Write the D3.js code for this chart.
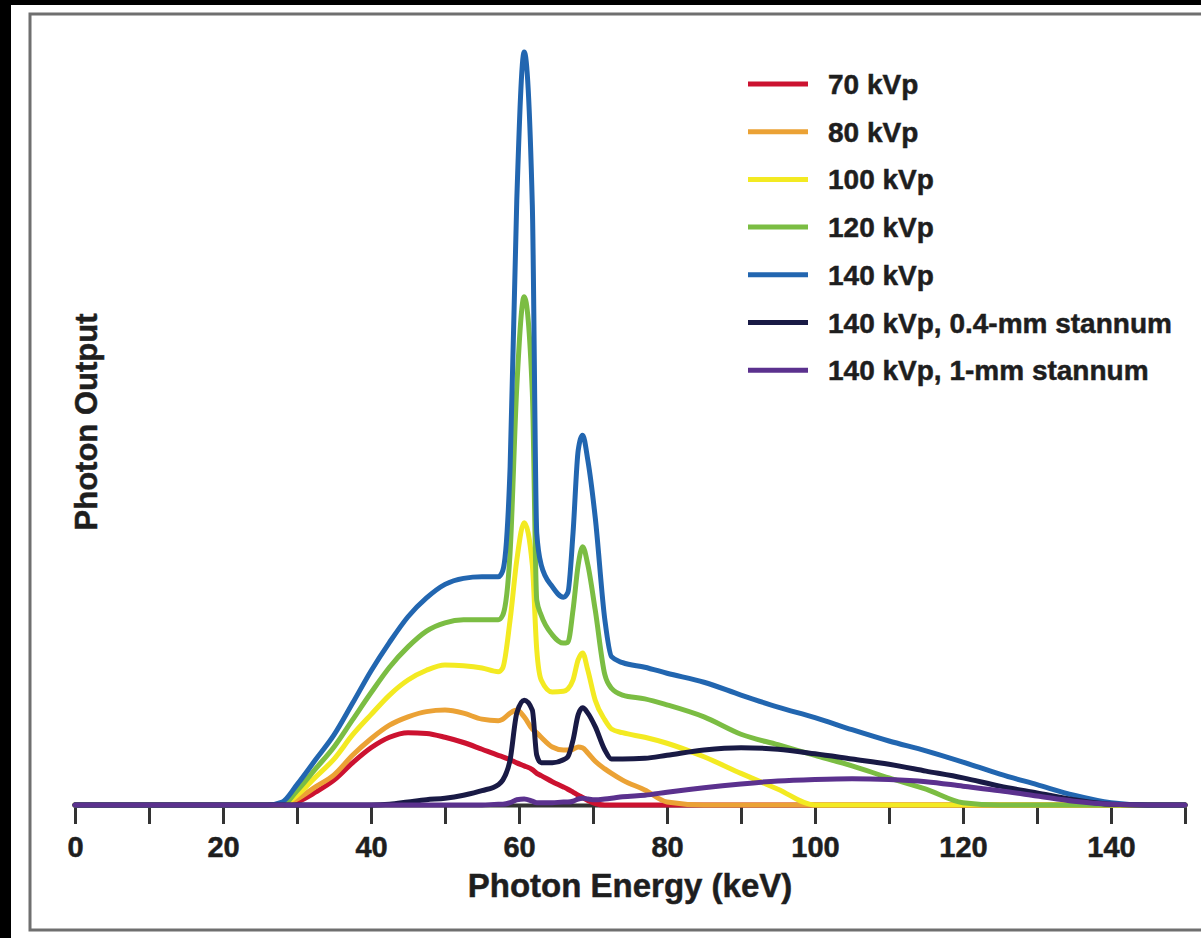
<!DOCTYPE html>
<html>
<head>
<meta charset="utf-8">
<script src="https://cdn.jsdelivr.net/npm/d3@7"></script>
<style>
  html, body { margin: 0; padding: 0; background: #000; }
  svg { display: block; }
  text { font-family: "Liberation Sans", Arial, Helvetica, sans-serif; font-weight: bold; fill: #1e1e1e; stroke: #1e1e1e; stroke-width: 0.5px; }
</style>
</head>
<body>
<div id="chart"></div>
<script>
// photon energy grid (keV), shared by all spectra
var energy = [0, 10, 20, 26, 28, 30, 32.5, 35, 37.5, 40, 42.5, 45, 47.5, 50, 52.5,
  55, 57.2, 57.8, 58.8, 59.7, 60.7, 61.8, 62.4, 63, 64.5, 66, 66.6, 67.3, 68, 68.6,
  69.3, 70.3, 71.6, 72.5, 74, 77, 80, 85, 90, 95, 100, 105, 110, 115, 120,
  125, 130, 135, 140, 145, 150];

// relative photon output (140 kVp K-alpha peak = 100)
var kvp70 = [0, 0, 0, 0, 0, 0.4, 1.7, 3.3, 5.6, 7.6, 9.0, 9.6, 9.5, 9.0, 8.3,
  7.4, 6.6, 6.4, 6.0, 5.6, 5.2, 4.7, 4.2, 3.9, 3.1, 2.4, 2.1, 1.7, 1.3, 1.0,
  0.6, 0.2, 0, 0, 0, 0, 0, 0, 0, 0, 0, 0, 0, 0, 0,
  0, 0, 0, 0, 0, 0];
var kvp80 = [0, 0, 0, 0, 0, 0.8, 2.4, 4.0, 6.6, 8.8, 10.6, 11.7, 12.4, 12.6, 12.2,
  11.4, 11.2, 11.4, 12.2, 12.6, 11.7, 10.1, 9.6, 9.0, 7.7, 7.3, 7.3, 7.4, 7.7, 7.6,
  6.9, 5.8, 4.8, 4.2, 3.3, 2.0, 0.4, 0, 0, 0, 0, 0, 0, 0, 0,
  0, 0, 0, 0, 0, 0];
var kvp100 = [0, 0, 0, 0, 0, 1.3, 3.7, 6.1, 9.3, 12.0, 14.6, 16.6, 17.9, 18.6, 18.5,
  18.2, 17.7, 18.2, 24.6, 32.5, 37.5, 31.9, 20.6, 16.6, 15.0, 15.1, 15.4, 16.6, 19.3, 20.2,
  17.9, 13.9, 11.3, 10.1, 9.6, 9.0, 8.2, 6.4, 4.2, 2.1, 0, 0, 0, 0, 0,
  0, 0, 0, 0, 0, 0];
var kvp120 = [0, 0, 0, 0, 0, 1.9, 4.8, 7.7, 11.3, 14.9, 18.3, 21.0, 23.1, 24.2, 24.6,
  24.6, 24.6, 25.2, 33.6, 55.5, 67.5, 54.8, 27.2, 25.2, 22.6, 21.5, 21.6, 25.9, 31.9, 34.3,
  31.9, 25.9, 17.3, 15.5, 14.6, 14.1, 13.3, 11.7, 9.4, 8.0, 6.6, 5.2, 3.6, 2.1, 0.3,
  0, 0, 0, 0, 0, 0];
var kvp140 = [0, 0, 0, 0, 0.4, 2.7, 6.0, 9.3, 13.5, 17.8, 21.6, 25.0, 27.5, 29.3, 30.1,
  30.3, 30.3, 31.1, 44.9, 80.3, 100, 79.7, 36.1, 31.9, 29.0, 27.6, 28.2, 36.1, 47.1, 49.1,
  45.8, 38.2, 24.6, 19.7, 18.9, 18.3, 17.5, 16.3, 14.6, 13.0, 11.6, 10.0, 8.5, 7.2, 5.7,
  4.1, 2.7, 1.3, 0.3, 0, 0];
var kvp140Sn04 = [0, 0, 0, 0, 0, 0, 0, 0, 0, 0, 0.1, 0.4, 0.7, 0.9, 1.3,
  1.9, 2.7, 3.3, 6.0, 12.2, 13.9, 12.6, 6.6, 5.6, 5.6, 6.0, 6.4, 8.6, 12.0, 12.9,
  12.2, 10.4, 7.3, 6.1, 6.1, 6.2, 6.6, 7.3, 7.6, 7.4, 6.8, 6.1, 5.4, 4.5, 3.6,
  2.5, 1.6, 0.7, 0.1, 0, 0];
var kvp140Sn10 = [0, 0, 0, 0, 0, 0, 0, 0, 0, 0, 0, 0, 0, 0, 0,
  0, 0.1, 0.1, 0.3, 0.7, 0.8, 0.5, 0.3, 0.3, 0.3, 0.4, 0.4, 0.5, 0.8, 0.9,
  0.8, 0.7, 0.8, 0.9, 1.1, 1.3, 1.7, 2.3, 2.8, 3.2, 3.4, 3.5, 3.4, 3.1, 2.5,
  1.9, 1.2, 0.5, 0.1, 0, 0];

var seriesNames = ["70 kVp", "80 kVp", "100 kVp", "120 kVp", "140 kVp",
  "140 kVp, 0.4-mm stannum", "140 kVp, 1-mm stannum"];
var seriesColors = ["#cc1230", "#eba235", "#f3ea22", "#7bbd43", "#2266b0", "#191a45", "#5b318e"];
var seriesValues = [kvp70, kvp80, kvp100, kvp120, kvp140, kvp140Sn04, kvp140Sn10];

var xTicks = d3.range(0, 151, 10);

var W = 1201, H = 938;
var svg = d3.select("#chart").append("svg")
  .attr("width", W)
  .attr("height", H);

// black surround, white panel, grey frame
svg.append("rect").attr("width", W).attr("height", H).attr("fill", "#000");
svg.append("rect").attr("x", 11).attr("y", 5).attr("width", W - 11).attr("height", H - 5).attr("fill", "#fff");
svg.append("rect")
  .attr("x", 30).attr("y", 14)
  .attr("width", W).attr("height", 916)
  .attr("fill", "none")
  .attr("stroke", "#6f6f6f")
  .attr("stroke-width", 3);

var x = d3.scaleLinear()
  .domain([0, 150])
  .range([75, 1185]);

var y = d3.scaleLinear()
  .domain([0, 100])
  .range([805, 52]);

// x axis
var xAxis = svg.append("g")
  .attr("transform", "translate(0," + y(0) + ")")
  .call(d3.axisBottom(x)
    .tickValues(xTicks)
    .tickSize(19)
    .tickSizeOuter(0)
    .tickPadding(12)
    .tickFormat(function(d) { return (d % 20 === 0 && d < 150) ? d : ""; }));

xAxis.select(".domain").attr("stroke", "#333").attr("stroke-width", 4);
xAxis.selectAll(".tick line").attr("stroke", "#333").attr("stroke-width", 3);
xAxis.selectAll(".tick text")
  .attr("fill", "#1e1e1e")
  .style("font-size", "29px")
  .style("font-family", "'Liberation Sans', Arial, sans-serif")
  .style("font-weight", "bold");

svg.append("text")
  .attr("x", (x(0) + x(150)) / 2)
  .attr("y", 897)
  .attr("text-anchor", "middle")
  .style("font-size", "33px")
  .text("Photon Energy (keV)");

svg.append("text")
  .attr("transform", "translate(97,422) rotate(-90)")
  .attr("text-anchor", "middle")
  .style("font-size", "31px")
  .text("Photon Output");

// spectra
var line = d3.line()
  .x(function(d) { return x(d[0]); })
  .y(function(d) { return y(d[1]); })
  .curve(d3.curveMonotoneX);

seriesValues.forEach(function(vals, i) {
  var pts = energy.map(function(e, j) { return [e, vals[j]]; });
  svg.append("path")
    .datum(pts)
    .attr("fill", "none")
    .attr("stroke", seriesColors[i])
    .attr("stroke-width", 5)
    .attr("stroke-linejoin", "round")
    .attr("stroke-linecap", "round")
    .attr("d", line);
});

// legend
var legend = svg.append("g").attr("transform", "translate(748,84)");
var rows = legend.selectAll("g")
  .data(seriesNames)
  .enter().append("g")
  .attr("transform", function(d, i) { return "translate(0," + (i * 47.7) + ")"; });

rows.append("line")
  .attr("x1", 0).attr("x2", 60)
  .attr("stroke", function(d, i) { return seriesColors[i]; })
  .attr("stroke-width", 5);

rows.append("text")
  .attr("x", 80)
  .attr("dy", "0.36em")
  .style("font-size", "28px")
  .text(function(d) { return d; });
</script>
</body>
</html>
